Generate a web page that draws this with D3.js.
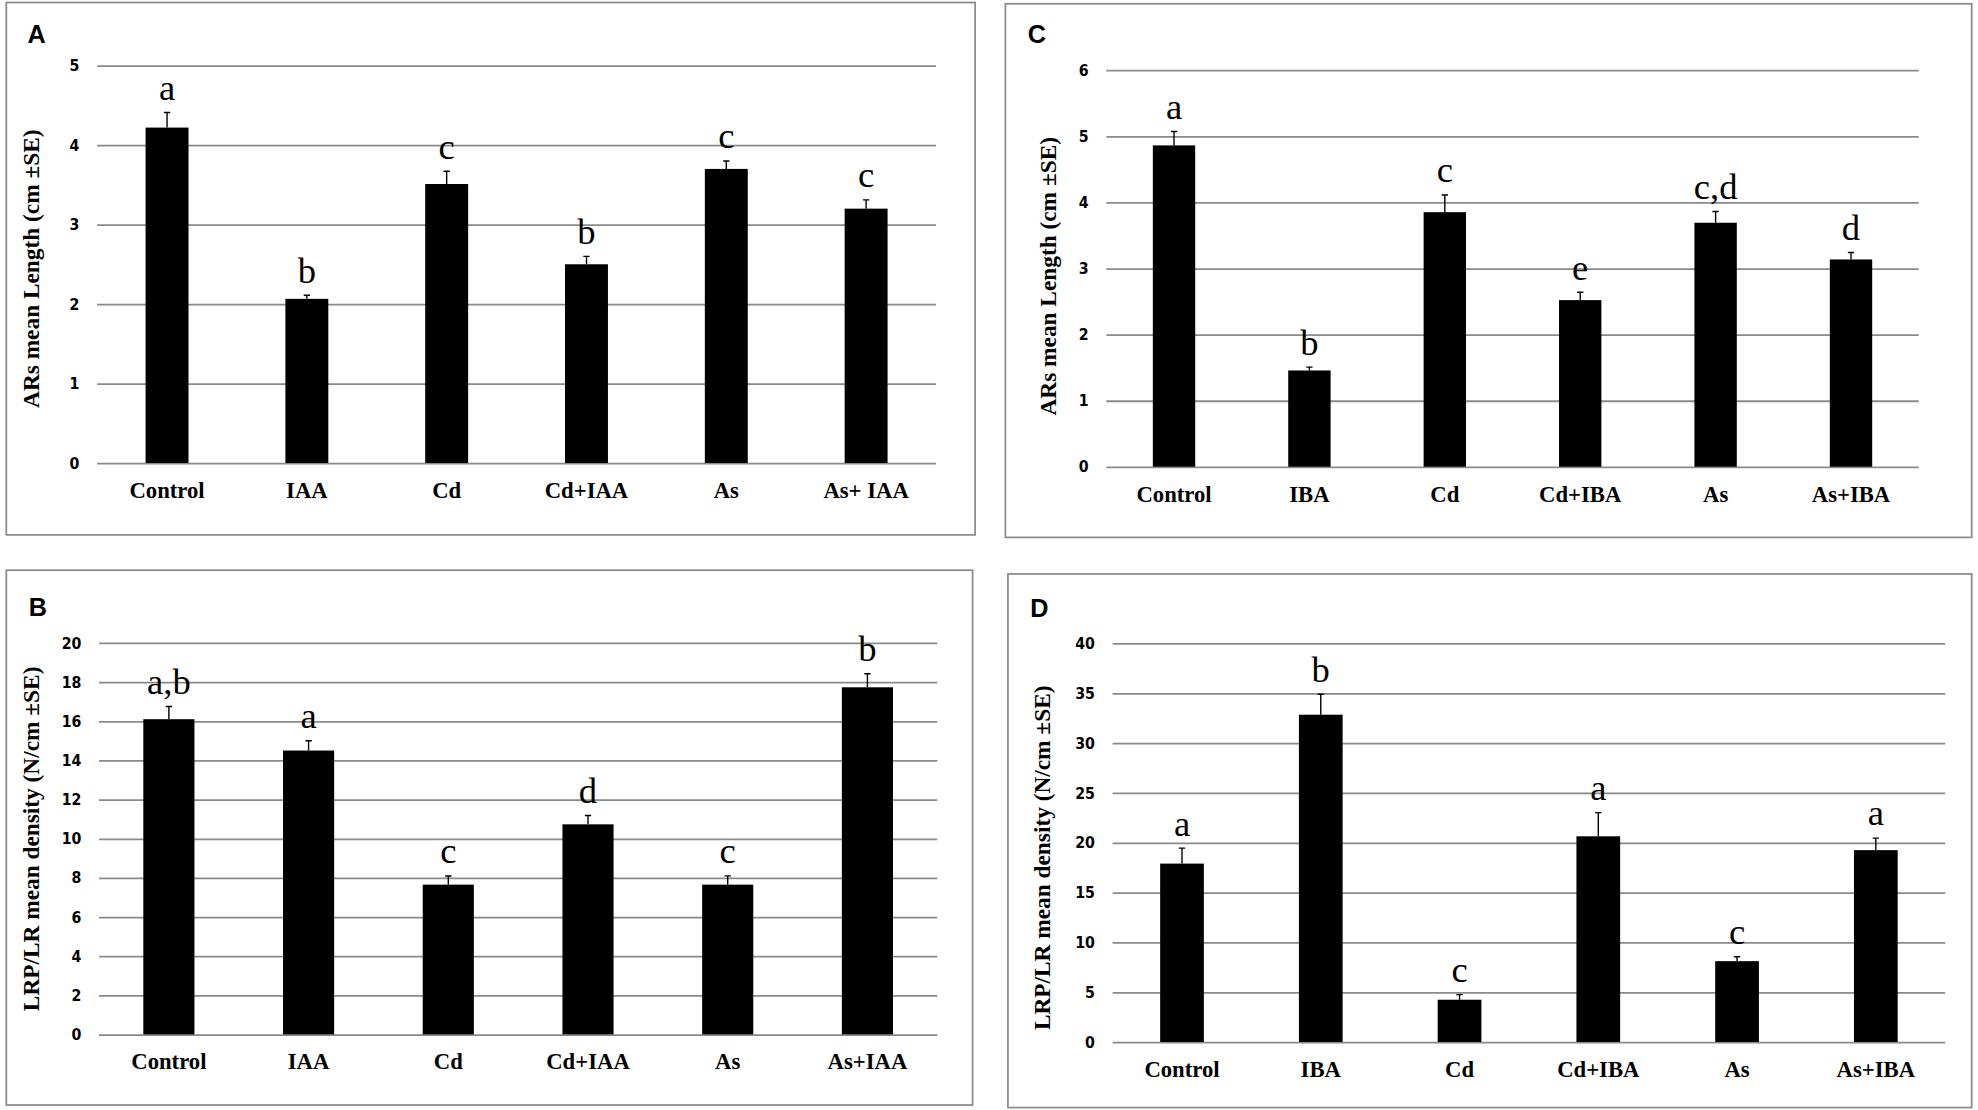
<!DOCTYPE html>
<html>
<head>
<meta charset="utf-8">
<script src="https://cdn.jsdelivr.net/npm/d3@7"></script>
<style>
  body { margin: 0; background: #fff; }
  svg { display: block; }
</style>
</head>
<body>
<svg id="chart" width="1978" height="1110"></svg>
<script>
// categories
const catsIAA_A = ["Control", "IAA", "Cd", "Cd+IAA", "As", "As+ IAA"];
const catsIAA_B = ["Control", "IAA", "Cd", "Cd+IAA", "As", "As+IAA"];
const catsIBA = ["Control", "IBA", "Cd", "Cd+IBA", "As", "As+IBA"];

// A: ARs mean length with IAA
const lengthIAA = [4.22, 2.065, 3.51, 2.50, 3.70, 3.20];
const lengthIAA_se = [0.19, 0.045, 0.16, 0.10, 0.10, 0.11];
const lettersA = ["a", "b", "c", "b", "c", "c"];

// B: LRP/LR density with IAA
const densityIAA = [16.1, 14.5, 7.65, 10.73, 7.65, 17.73];
const densityIAA_se = [0.65, 0.5, 0.44, 0.45, 0.45, 0.69];
const lettersB = ["a,b", "a", "c", "d", "c", "b"];

// C: ARs mean length with IBA
const lengthIBA = [4.86, 1.456, 3.85, 2.52, 3.69, 3.135];
const lengthIBA_se = [0.21, 0.05, 0.26, 0.12, 0.17, 0.105];
const lettersC = ["a", "b", "c", "e", "c,d", "d"];

// D: LRP/LR density with IBA
const densityIBA = [17.9, 32.84, 4.24, 20.64, 8.11, 19.25];
const densityIBA_se = [1.55, 2.05, 0.51, 2.37, 0.44, 1.21];
const lettersD = ["a", "b", "c", "a", "c", "a"];

const yTicksA = [0, 1, 2, 3, 4, 5];
const yTicksB = [0, 2, 4, 6, 8, 10, 12, 14, 16, 18, 20];
const yTicksC = [0, 1, 2, 3, 4, 5, 6];
const yTicksD = [0, 5, 10, 15, 20, 25, 30, 35, 40];

const labelLength = "ARs mean Length (cm \u00b1SE)";
const labelDensity = "LRP/LR mean density (N/cm \u00b1SE)";

// the drawing is laid out on a 1568x880 grid, then scaled up to the window
const k = 1978 / 1568;

const svg = d3.select("#chart");
const root = svg.append("g").attr("transform", `scale(${k})`);

const panels = [
  { id: "A", cats: catsIAA_A, vals: lengthIAA, se: lengthIAA_se, letters: lettersA,
    ticks: yTicksA, max: 5, label: labelLength,
    box: [5, 2, 773, 424], x: [77, 742], y: [367, 52], barRatio: 0.307,
    catY: 391, labelPos: [27, 213], idPos: [29, 27] },
  { id: "C", cats: catsIBA, vals: lengthIBA, se: lengthIBA_se, letters: lettersC,
    ticks: yTicksC, max: 6, label: labelLength,
    box: [797, 3, 1563, 426], x: [877, 1521], y: [370, 55.5], barRatio: 0.313,
    catY: 394, labelPos: [833, 219], idPos: [822, 27] },
  { id: "B", cats: catsIAA_B, vals: densityIAA, se: densityIAA_se, letters: lettersB,
    ticks: yTicksB, max: 20, label: labelDensity,
    box: [5, 452, 771, 876], x: [78.5, 743], y: [820, 509.6], barRatio: 0.366,
    catY: 843, labelPos: [27, 665], idPos: [30, 481] },
  { id: "D", cats: catsIBA, vals: densityIBA, se: densityIBA_se, letters: lettersD,
    ticks: yTicksD, max: 40, label: labelDensity,
    box: [799, 455, 1563, 878], x: [882, 1542], y: [826, 510], barRatio: 0.315,
    catY: 850, labelPos: [828, 680], idPos: [824, 482] }
];

panels.forEach(p => {
  const g = root.append("g");

  // outer frame
  g.append("rect")
    .attr("x", p.box[0]).attr("y", p.box[1])
    .attr("width", p.box[2] - p.box[0]).attr("height", p.box[3] - p.box[1])
    .attr("fill", "#fff").attr("stroke", "#8c8c8c").attr("stroke-width", 1.4);

  const x = d3.scaleBand().domain(p.cats).range(p.x).padding(0);
  const y = d3.scaleLinear().domain([0, p.max]).range(p.y);

  // gridlines + tick labels
  const axis = g.append("g")
    .attr("transform", `translate(${p.x[0]},0)`)
    .call(d3.axisLeft(y)
      .tickValues(p.ticks)
      .tickFormat(d3.format("d"))
      .tickSize(-(p.x[1] - p.x[0]))
      .tickPadding(14));
  axis.select(".domain").remove();
  axis.selectAll(".tick line").attr("stroke", "#8a8a8a").attr("stroke-width", 1.4);
  axis.selectAll(".tick text")
    .attr("fill", "#000")
    .style("font-family", "'Liberation Sans Narrow', 'DejaVu Sans Condensed', 'Liberation Sans', sans-serif")
    .style("font-weight", "bold")
    .style("font-size", "12.5px");

  const bw = x.bandwidth() * p.barRatio;
  const cx = d => x(d) + x.bandwidth() / 2;

  // bars
  g.selectAll(".bar")
    .data(p.cats)
    .enter()
    .append("rect")
      .attr("x", d => cx(d) - bw / 2)
      .attr("width", bw)
      .attr("y", (d, i) => y(p.vals[i]))
      .attr("height", (d, i) => y(0) - y(p.vals[i]))
      .attr("fill", "#000");

  // error bars (upper only)
  g.selectAll(".err")
    .data(p.cats)
    .enter()
    .append("path")
      .attr("d", (d, i) => {
        const c = cx(d), top = y(p.vals[i] + p.se[i]);
        return `M${c},${y(p.vals[i])}V${top}M${c - 2.5},${top}H${c + 2.5}`;
      })
      .attr("stroke", "#000").attr("stroke-width", 1.1).attr("fill", "none");

  // significance letters
  g.selectAll(".sig")
    .data(p.cats)
    .enter()
    .append("text")
      .attr("x", d => cx(d))
      .attr("y", (d, i) => y(p.vals[i] + p.se[i]) - 10)
      .attr("text-anchor", "middle")
      .style("font-family", "'Liberation Serif', 'Times New Roman', serif")
      .style("font-size", "29px")
      .text((d, i) => p.letters[i]);

  // category labels
  g.selectAll(".cat")
    .data(p.cats)
    .enter()
    .append("text")
      .attr("x", d => cx(d))
      .attr("y", p.catY)
      .attr("text-anchor", "middle")
      .attr("dominant-baseline", "middle")
      .style("font-family", "'Liberation Serif', 'Times New Roman', serif")
      .style("font-weight", "bold")
      .style("font-size", "18px")
      .text(d => d);

  // y axis title
  g.append("text")
    .attr("transform", `translate(${p.labelPos[0]},${p.labelPos[1]}) rotate(-90)`)
    .attr("text-anchor", "middle")
    .attr("dominant-baseline", "middle")
    .style("font-family", "'Liberation Serif', 'Times New Roman', serif")
    .style("font-weight", "bold")
    .style("font-size", "18.5px")
    .text(p.label);

  // panel letter
  g.append("text")
    .attr("x", p.idPos[0]).attr("y", p.idPos[1])
    .attr("text-anchor", "middle")
    .attr("dominant-baseline", "central")
    .style("font-family", "'Liberation Sans', Arial, sans-serif")
    .style("font-weight", "bold")
    .style("font-size", "20px")
    .text(p.id);
});
</script>
</body>
</html>
